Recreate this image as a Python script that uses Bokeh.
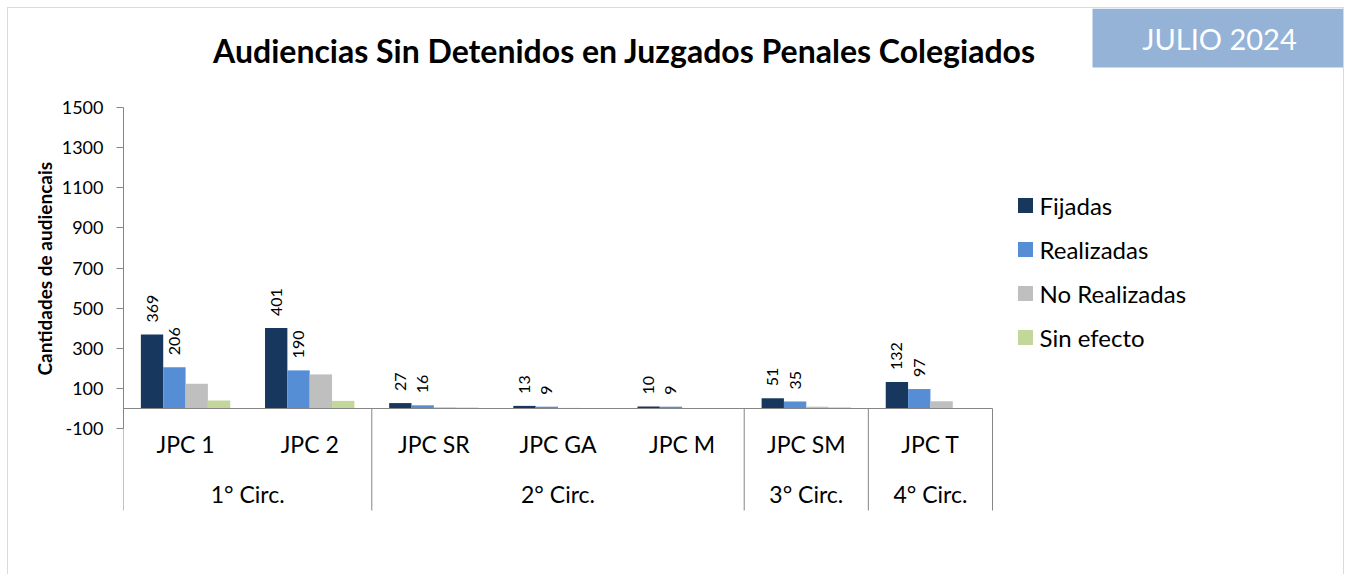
import numpy as np
from bokeh.plotting import figure
from bokeh.models import (Range1d, FixedTicker, Legend, LegendItem, Label, Title,
                          BoxAnnotation, LinearAxis)
from bokeh.core.properties import value
from bokeh.embed import file_html
from bokeh.resources import INLINE

# ---------------- data ----------------
categories = ["JPC 1", "JPC 2", "JPC SR", "JPC GA", "JPC M", "JPC SM", "JPC T"]
groups = ["1° Circ.", "2° Circ.", "3° Circ.", "4° Circ."]
group_sizes = [2, 3, 1, 1]
series_names = ["Fijadas", "Realizadas", "No Realizadas", "Sin efecto"]
fijadas = [369, 401, 27, 13, 10, 51, 132]
realizadas = [206, 190, 16, 9, 9, 35, 97]
no_realizadas = [123, 170, 6, 3, 1, 9, 36]
sin_efecto = [40, 38, 5, 1, 0, 6, 0]
y_ticks = [-100, 100, 300, 500, 700, 900, 1100, 1300, 1500]
title_text = "Audiencias Sin Detenidos en Juzgados Penales Colegiados"
badge_text = "JULIO 2024"
y_title = "Cantidades de audiencais"

# ---------------- styles / layout (page pixels) ----------------
colors = ["#17375E", "#558ED5", "#BFBFBF", "#C3D69B"]
FONT = "Lato"
AXIS_COLOR = "#868686"
PAGE_X0, PAGE_Y0 = 8, 8
W, H = 1337, 567
FRAME_L, FRAME_R = 123, PAGE_X0 + W
FRAME_T, FRAME_B = PAGE_Y0, PAGE_Y0 + H
CAT_PX = (992 - 123) / 7.0
ZERO_Y = 408.0
PX_PER_UNIT = (428 - 107) / 1600.0
BAR_W = 0.18
Y_TITLE_LEN = 215  # approx. rendered length of the y title, px


def xd(px):
    return (px - FRAME_L) / CAT_PX


def yd(py):
    return (ZERO_Y - py) / PX_PER_UNIT


p = figure(width=W, height=H,
           x_range=Range1d(0, xd(FRAME_R)), y_range=Range1d(yd(FRAME_B), yd(FRAME_T)),
           output_backend="svg", toolbar_location=None, title=None,
           x_axis_location=None, y_axis_location=None,
           min_border_left=FRAME_L - PAGE_X0, min_border_right=0,
           min_border_top=0, min_border_bottom=0)
p.grid.visible = False
p.outline_line_color = None
p.background_fill_color = "white"
p.border_fill_color = "white"
p.styles = {"margin-left": "7px", "margin-top": "7px",
            "border-left": "1px solid #DADADA", "border-top": "1px solid #DADADA",
            "border-right": "1px solid #DADADA"}

# y axis
ax = LinearAxis(bounds=(y_ticks[0], y_ticks[-1]), ticker=FixedTicker(ticks=y_ticks))
ax.axis_line_color = AXIS_COLOR
ax.major_tick_line_color = AXIS_COLOR
ax.major_tick_out = 7
ax.major_tick_in = 0
ax.minor_tick_line_color = None
ax.major_label_standoff = 13
ax.major_label_text_font = FONT
ax.major_label_text_font_size = "18px"
ax.major_label_text_color = "black"
ax.major_label_overrides = {t: str(t) for t in y_ticks}
p.add_layout(ax, "left")

# y axis title, centred on the axis bounds rather than the whole frame
bounds_mid = ZERO_Y - PX_PER_UNIT * (y_ticks[0] + y_ticks[-1]) / 2.0
p.add_layout(Title(text=y_title, align="left",
                   offset=FRAME_B - (bounds_mid + Y_TITLE_LEN / 2.0), standoff=6,
                   text_font=FONT, text_font_style="bold", text_font_size="19px",
                   text_color="black"), "left")

# bars
series = [fijadas, realizadas, no_realizadas, sin_efecto]
centers = np.arange(len(categories)) + 0.5
legend_items = []
for k, (name, vals, c) in enumerate(zip(series_names, series, colors)):
    xs = centers + (k - 1.5) * BAR_W
    p.vbar(x=xs, top=vals, bottom=0, width=BAR_W, fill_color=c, line_color=None)
    if k < 2:
        p.text(x=xs, y=np.array(vals) + 12 / PX_PER_UNIT, text=[str(v) for v in vals],
               angle=np.pi / 2, text_align="left", text_baseline="middle",
               text_font=value(FONT), text_font_size="16px", text_color="black")
    # square swatch for the legend (not drawn in the plot area)
    r = p.scatter(x=xs, y=vals, marker="square", size=12, fill_color=c, line_color=c,
                  line_width=3, line_join="miter", visible=False)
    legend_items.append(LegendItem(label=name, renderers=[r]))

# category axis line and group separators
n = len(categories)
p.segment(x0=[0], y0=[0], x1=[n], y1=[0], line_color=AXIS_COLOR, line_width=1)
bounds = np.concatenate([[0], np.cumsum(group_sizes)])
p.segment(x0=bounds, y0=[0] * len(bounds), x1=bounds, y1=[yd(510)] * len(bounds),
          line_color=AXIS_COLOR, line_width=1)

p.text(x=centers, y=[yd(443)] * n, text=categories, text_align="center",
       text_baseline="middle", text_font=value(FONT), text_font_size="23px", text_color="black")
gcenters = (bounds[:-1] + bounds[1:]) / 2.0
p.text(x=gcenters, y=[yd(493)] * len(groups), text=groups, text_align="center",
       text_baseline="middle", text_font=value(FONT), text_font_size="23px", text_color="black")

# title
p.add_layout(Label(x=xd(624), y=yd(50), text=title_text, text_align="center",
                   text_baseline="middle", text_font=FONT, text_font_style="bold",
                   text_font_size="32px", text_color="black"))

# badge
p.add_layout(BoxAnnotation(left=xd(1092), right=xd(1345), top=yd(8), bottom=yd(67),
                           fill_color="#95B3D7", fill_alpha=1, line_color=None))
p.add_layout(Label(x=xd(1219), y=yd(38), text=badge_text, text_align="center",
                   text_baseline="middle", text_font=FONT, text_font_size="29px",
                   text_color="white"))

# legend
legend = Legend(items=legend_items, location=(1009.5 - FRAME_L, FRAME_B - 356),
                orientation="vertical", glyph_width=30, glyph_height=38, label_height=38,
                spacing=6, label_standoff=0, padding=0, margin=0,
                border_line_color=None, background_fill_alpha=0,
                label_text_font=FONT, label_text_font_size="24px", label_text_color="black")
p.add_layout(legend)

open("out.html", "w").write(file_html(p, INLINE))
